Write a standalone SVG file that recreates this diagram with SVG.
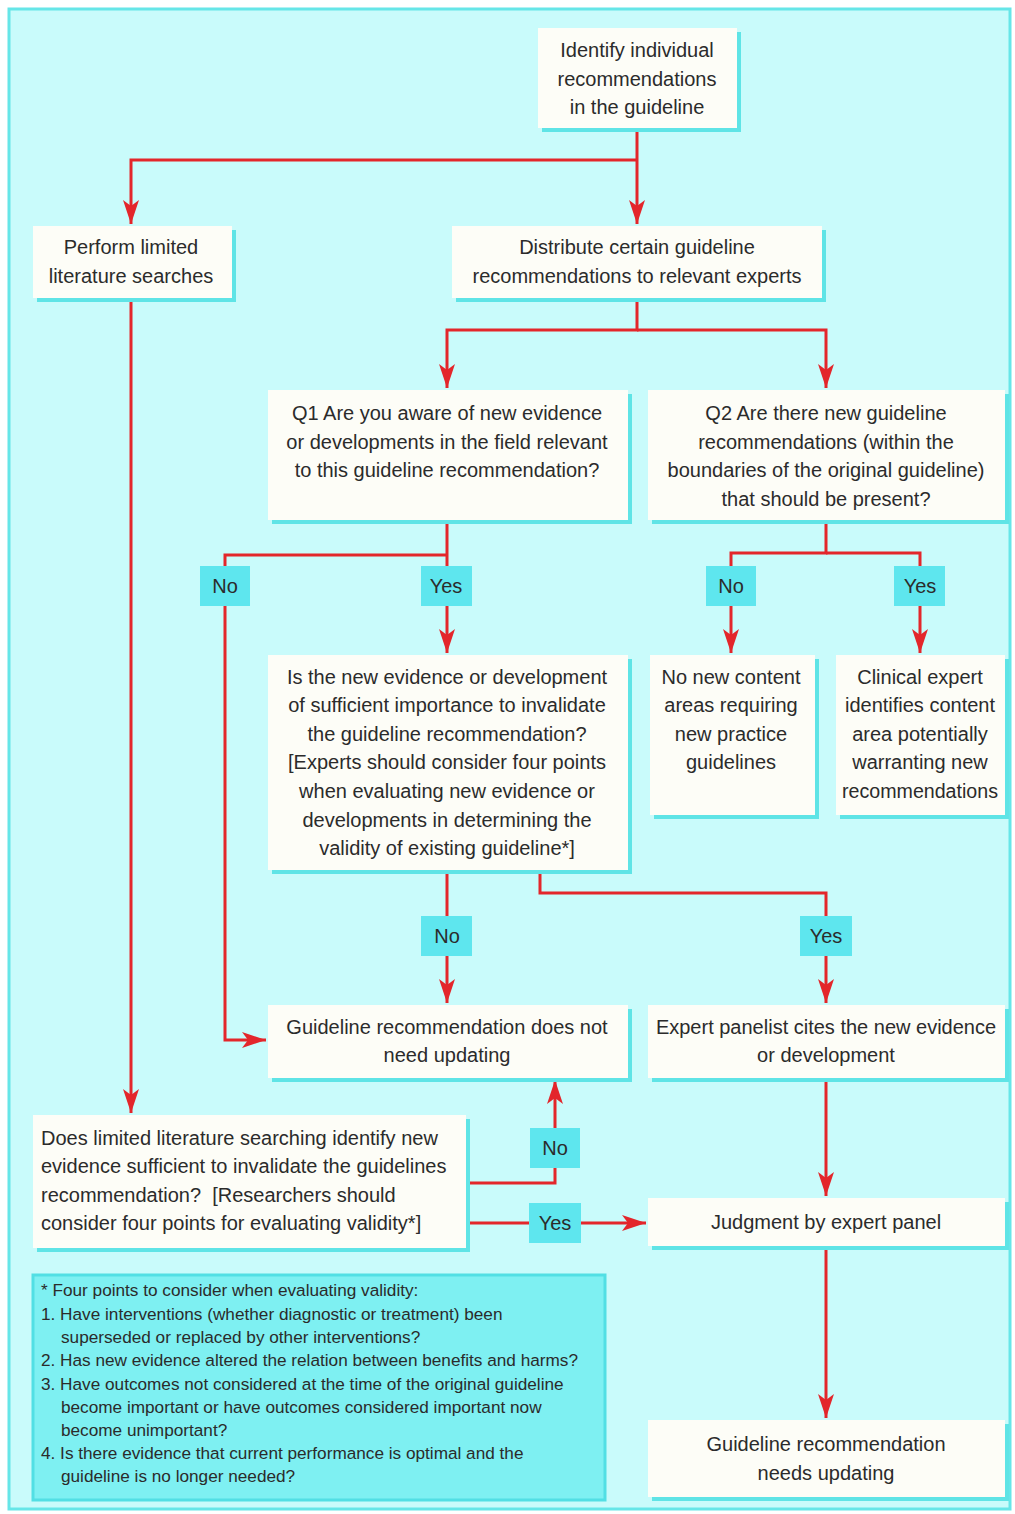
<svg xmlns="http://www.w3.org/2000/svg" width="1015" height="1514" viewBox="0 0 1015 1514">
<defs>
<style>
.bx{fill:#fdfdf7}
.sh{fill:#5fe4e6}
.t{font-family:"Liberation Sans",Arial,sans-serif;font-size:20px;fill:#2b2b2b;text-anchor:middle}
.tl{text-anchor:start}
.fn{font-family:"Liberation Sans",Arial,sans-serif;font-size:17.2px;fill:#2b2b2b}
.ln{fill:none;stroke:#e3262b;stroke-width:3}
.lb{fill:#5ee6ee}
</style>
<marker id="ah" markerUnits="userSpaceOnUse" markerWidth="26" markerHeight="18" refX="24" refY="9" orient="auto">
<path d="M0,1 L24,9 L0,17 L6,9 z" fill="#e3262b"/>
</marker>
</defs>
<rect x="0" y="0" width="1015" height="1514" fill="#ffffff"/>
<rect x="9" y="9" width="1001" height="1500" fill="#c9fbfb" stroke="#66e6e8" stroke-width="3"/>

<g id="connectors">
<path class="ln" d="M637,128 V224" marker-end="url(#ah)"/>
<path class="ln" d="M637,160 H131 V224" marker-end="url(#ah)"/>
<path class="ln" d="M131,298 V1113" marker-end="url(#ah)"/>
<path class="ln" d="M637,298 V330 H447 V388" marker-end="url(#ah)"/>
<path class="ln" d="M637,330 H826 V388" marker-end="url(#ah)"/>
<path class="ln" d="M447,520 V653" marker-end="url(#ah)"/>
<path class="ln" d="M447,555 H225 V1040 H266" marker-end="url(#ah)"/>
<path class="ln" d="M826,520 V553 H731 V653" marker-end="url(#ah)"/>
<path class="ln" d="M826,553 H920 V653" marker-end="url(#ah)"/>
<path class="ln" d="M447,870 V1003" marker-end="url(#ah)"/>
<path class="ln" d="M540,870 V893 H826 V1003" marker-end="url(#ah)"/>
<path class="ln" d="M826,1078 V1196" marker-end="url(#ah)"/>
<path class="ln" d="M826,1246 V1418" marker-end="url(#ah)"/>
<path class="ln" d="M466,1183 H555 V1080" marker-end="url(#ah)"/>
<path class="ln" d="M466,1223 H646" marker-end="url(#ah)"/>
</g>

<g id="labels">
<g id="lb-q1-no"><rect class="lb" x="200" y="566" width="50" height="40"/><text class="t" x="225" y="593">No</text></g>
<g id="lb-q1-yes"><rect class="lb" x="421" y="566" width="51" height="40"/><text class="t" x="446" y="593">Yes</text></g>
<g id="lb-q2-no"><rect class="lb" x="706" y="566" width="50" height="40"/><text class="t" x="731" y="593">No</text></g>
<g id="lb-q2-yes"><rect class="lb" x="894" y="566" width="51" height="40"/><text class="t" x="920" y="593">Yes</text></g>
<g id="lb-imp-no"><rect class="lb" x="421" y="916" width="51" height="40"/><text class="t" x="447" y="943">No</text></g>
<g id="lb-imp-yes"><rect class="lb" x="800" y="916" width="52" height="40"/><text class="t" x="826" y="943">Yes</text></g>
<g id="lb-lit-no"><rect class="lb" x="530" y="1128" width="50" height="40"/><text class="t" x="555" y="1155">No</text></g>
<g id="lb-lit-yes"><rect class="lb" x="529" y="1203" width="52" height="40"/><text class="t" x="555" y="1230">Yes</text></g>
</g>

<g id="n-identify">
<rect class="sh" x="542" y="32" width="199" height="100"/>
<rect class="bx" x="538" y="28" width="199" height="100"/>
<text class="t" x="637" y="57">Identify individual</text>
<text class="t" x="637" y="86">recommendations</text>
<text class="t" x="637" y="114">in the guideline</text>
</g>

<g id="n-perform">
<rect class="sh" x="37" y="230" width="199" height="72"/>
<rect class="bx" x="33" y="226" width="199" height="72"/>
<text class="t" x="131" y="254">Perform limited</text>
<text class="t" x="131" y="283">literature searches</text>
</g>

<g id="n-distribute">
<rect class="sh" x="456" y="230" width="370" height="72"/>
<rect class="bx" x="452" y="226" width="370" height="72"/>
<text class="t" x="637" y="254">Distribute certain guideline</text>
<text class="t" x="637" y="283">recommendations to relevant experts</text>
</g>

<g id="n-q1">
<rect class="sh" x="272" y="394" width="360" height="130"/>
<rect class="bx" x="268" y="390" width="360" height="130"/>
<text class="t" x="447" y="420">Q1  Are you aware of new evidence</text>
<text class="t" x="447" y="449">or developments in the field relevant</text>
<text class="t" x="447" y="477">to this guideline recommendation?</text>
</g>

<g id="n-q2">
<rect class="sh" x="652" y="394" width="357" height="130"/>
<rect class="bx" x="648" y="390" width="357" height="130"/>
<text class="t" x="826" y="420">Q2  Are there new guideline</text>
<text class="t" x="826" y="449">recommendations (within the</text>
<text class="t" x="826" y="477">boundaries of the original guideline)</text>
<text class="t" x="826" y="506">that should be present?</text>
</g>

<g id="n-importance">
<rect class="sh" x="272" y="659" width="360" height="215"/>
<rect class="bx" x="268" y="655" width="360" height="215"/>
<text class="t" x="447" y="684">Is the new evidence or development</text>
<text class="t" x="447" y="712">of sufficient importance to invalidate</text>
<text class="t" x="447" y="741">the guideline recommendation?</text>
<text class="t" x="447" y="769">[Experts should consider four points</text>
<text class="t" x="447" y="798">when evaluating new evidence or</text>
<text class="t" x="447" y="827">developments in determining the</text>
<text class="t" x="447" y="855">validity of existing guideline*]</text>
</g>

<g id="n-nonew">
<rect class="sh" x="654" y="659" width="165" height="160"/>
<rect class="bx" x="650" y="655" width="165" height="160"/>
<text class="t" x="731" y="684">No new content</text>
<text class="t" x="731" y="712">areas requiring</text>
<text class="t" x="731" y="741">new practice</text>
<text class="t" x="731" y="769">guidelines</text>
</g>

<g id="n-clinical">
<rect class="sh" x="840" y="659" width="169" height="160"/>
<rect class="bx" x="836" y="655" width="169" height="160"/>
<text class="t" x="920" y="684">Clinical expert</text>
<text class="t" x="920" y="712">identifies content</text>
<text class="t" x="920" y="741">area potentially</text>
<text class="t" x="920" y="769">warranting new</text>
<text class="t" x="920" y="798" textLength="156" lengthAdjust="spacingAndGlyphs">recommendations</text>
</g>

<g id="n-noupdate">
<rect class="sh" x="272" y="1009" width="360" height="73"/>
<rect class="bx" x="268" y="1005" width="360" height="73"/>
<text class="t" x="447" y="1034">Guideline recommendation does not</text>
<text class="t" x="447" y="1062">need updating</text>
</g>

<g id="n-cites">
<rect class="sh" x="652" y="1009" width="357" height="73"/>
<rect class="bx" x="648" y="1005" width="357" height="73"/>
<text class="t" x="826" y="1034">Expert panelist cites the new evidence</text>
<text class="t" x="826" y="1062">or development</text>
</g>

<g id="n-litsearch">
<rect class="sh" x="37" y="1119" width="433" height="133"/>
<rect class="bx" x="33" y="1115" width="433" height="133"/>
<text class="t tl" x="41" y="1145">Does limited literature searching identify new</text>
<text class="t tl" x="41" y="1173">evidence sufficient to invalidate the guidelines</text>
<text class="t tl" x="41" y="1202">recommendation?&#160; [Researchers should</text>
<text class="t tl" x="41" y="1230">consider four points for evaluating validity*]</text>
</g>

<g id="n-judgment">
<rect class="sh" x="652" y="1202" width="357" height="48"/>
<rect class="bx" x="648" y="1198" width="357" height="48"/>
<text class="t" x="826" y="1229">Judgment by expert panel</text>
</g>

<g id="n-needsupdate">
<rect class="sh" x="652" y="1424" width="357" height="77"/>
<rect class="bx" x="648" y="1420" width="357" height="77"/>
<text class="t" x="826" y="1451">Guideline recommendation</text>
<text class="t" x="826" y="1480">needs updating</text>
</g>

<g id="n-footnote">
<rect x="33" y="1275" width="572" height="225" fill="#7ef0f2" stroke="#52dfe4" stroke-width="3"/>
<text class="fn" x="41" y="1296">* Four points to consider when evaluating validity:</text>
<text class="fn" x="41" y="1320">1. Have interventions (whether diagnostic or treatment) been</text>
<text class="fn" x="61" y="1343">superseded or replaced by other interventions?</text>
<text class="fn" x="41" y="1366">2. Has new evidence altered the relation between benefits and harms?</text>
<text class="fn" x="41" y="1390">3. Have outcomes not considered at the time of the original guideline</text>
<text class="fn" x="61" y="1413">become important or have outcomes considered important now</text>
<text class="fn" x="61" y="1436">become unimportant?</text>
<text class="fn" x="41" y="1459">4. Is there evidence that current performance is optimal and the</text>
<text class="fn" x="61" y="1482">guideline is no longer needed?</text>
</g>
</svg>
